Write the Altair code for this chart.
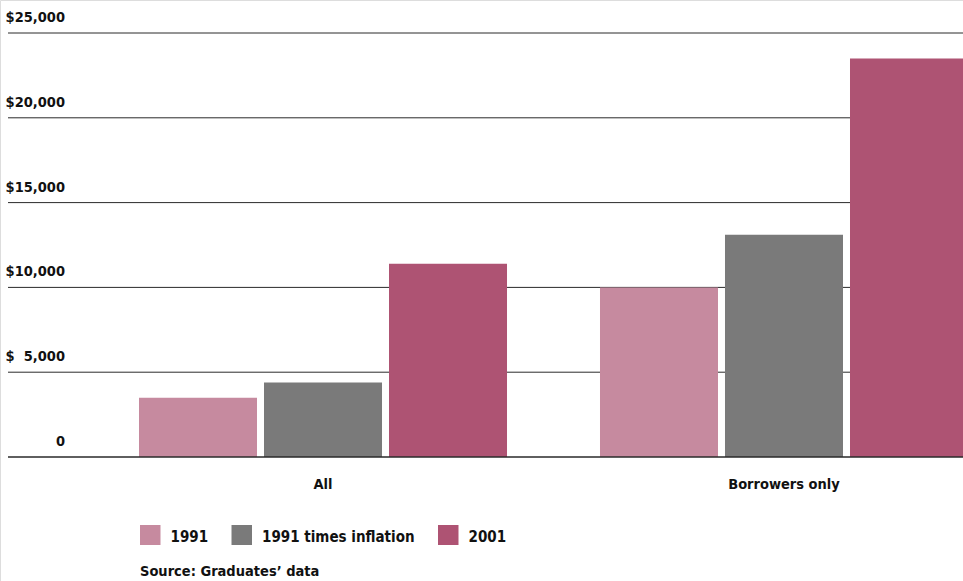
import altair as alt
import pandas as pd

# ---- data ----
groups = ["All", "Borrowers only"]
series = ["1991", "1991 times inflation", "2001"]
all_values = [3500, 4400, 11400]
borrower_values = [10000, 13100, 23500]
tick_values = [0, 5000, 10000, 15000, 20000, 25000]
tick_labels = ["0", "$\u20075,000", "$10,000", "$15,000", "$20,000", "$25,000"]
colors = ["#c68a9f", "#7a7a7a", "#ae5373"]
source_note = "Source: Graduates\u2019 data"

rows = []
for g, vals in zip(groups, [all_values, borrower_values]):
    for s, v in zip(series, vals):
        rows.append({"group": g, "series": s, "value": v})
bars_df = pd.DataFrame(rows)
ticks_df = pd.DataFrame({"value": tick_values, "label": tick_labels})
groups_df = pd.DataFrame({"group": groups})

FONT = "DejaVu Sans Condensed, Liberation Sans Narrow, Roboto, sans-serif"

x_scale = alt.Scale(domain=groups, range=[139, 968], paddingInner=0.2017, paddingOuter=0)
y_scale = alt.Scale(domain=[0, 25000], range=[457, 33], nice=False)
color_scale = alt.Scale(domain=series, range=colors)

grid = alt.Chart(ticks_df).transform_filter("datum.value > 0").mark_rule(
    color="#2a2a2a", strokeWidth=1
).encode(
    y=alt.Y("value:Q", scale=y_scale, axis=None),
    x=alt.value(8),
    x2=alt.value(963),
)

baseline = alt.Chart(ticks_df).transform_filter("datum.value == 0").mark_rule(
    color="#2a2a2a", strokeWidth=1.3
).encode(
    y=alt.Y("value:Q", scale=y_scale, axis=None),
    x=alt.value(8),
    x2=alt.value(963),
)

tick_text = alt.Chart(ticks_df).mark_text(
    align="right", baseline="alphabetic", dy=-11, font=FONT, fontSize=14.5,
    fontWeight="bold", color="#111"
).encode(
    y=alt.Y("value:Q", scale=y_scale, axis=None),
    x=alt.value(65),
    text="label:N",
)

bars = alt.Chart(bars_df).mark_bar().encode(
    x=alt.X("group:N", scale=x_scale, axis=None),
    xOffset=alt.XOffset("series:N", scale=alt.Scale(domain=series, paddingInner=0.056, paddingOuter=0)),
    y=alt.Y("value:Q", scale=y_scale, axis=None),
    color=alt.Color("series:N", scale=color_scale, legend=None),
)

group_text = alt.Chart(groups_df).mark_text(
    align="center", baseline="alphabetic", font=FONT, fontSize=14.5,
    fontWeight="bold", color="#111"
).encode(
    x=alt.X("group:N", scale=x_scale, axis=None),
    y=alt.value(489),
    text="group:N",
)

# manual legend
legend_layers = []
swatch_x = [140, 231.5, 438]
for s, sx in zip(series, swatch_x):
    d = pd.DataFrame({"series": [s]})
    legend_layers.append(
        alt.Chart(d).mark_rect().encode(
            x=alt.value(sx), x2=alt.value(sx + 20.5),
            y=alt.value(525), y2=alt.value(545),
            color=alt.Color("series:N", scale=color_scale, legend=None),
        )
    )
    legend_layers.append(
        alt.Chart(d).mark_text(
            align="left", baseline="alphabetic", font=FONT, fontSize=15,
            fontWeight="bold", color="#111"
        ).encode(
            x=alt.value(sx + 30.5), y=alt.value(542), text="series:N"
        )
    )

source_text = alt.Chart(pd.DataFrame({"t": [source_note]})).mark_text(
    align="left", baseline="alphabetic", font=FONT, fontSize=14.5,
    fontWeight="bold", color="#111"
).encode(x=alt.value(140), y=alt.value(576), text="t:N")

chart = alt.layer(
    grid, bars, baseline, tick_text, group_text, *legend_layers, source_text
).properties(
    width=963, height=581, padding=0, autosize="none"
).configure_view(stroke=None).configure(background="white")

chart.save("out.html", embed_options={"renderer": "svg", "actions": False})
